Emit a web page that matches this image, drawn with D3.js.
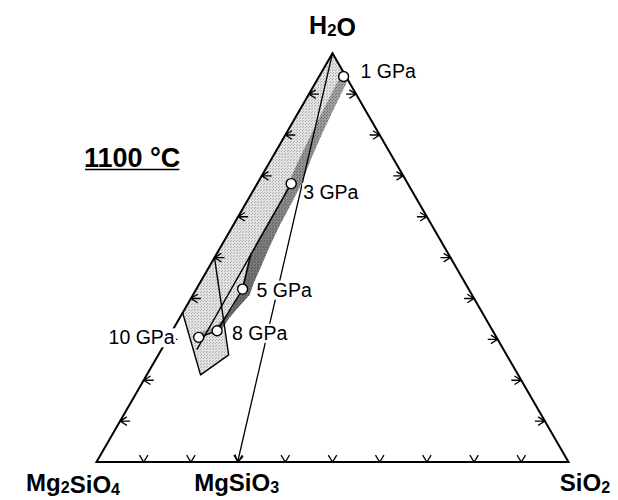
<!DOCTYPE html>
<html>
<head>
<meta charset="utf-8">
<script src="https://cdn.jsdelivr.net/npm/d3@7/dist/d3.min.js"></script>
<style>
    body { margin: 0; background: #fff; }
    svg { display: block; font-family: "Liberation Sans", Arial, Helvetica, sans-serif; }
</style>
</head>
<body>
<div id="chart"></div>
<script>
'use strict';

// Compositions are wt% [H2O, SiO2]; Mg2SiO4 is the remainder
const pressures = ['1 GPa', '3 GPa', '5 GPa', '8 GPa', '10 GPa'];
const pointH2O  = [94.3, 68.1, 42.3, 32.1, 30.5];
const pointSiO2 = [5.2, 7.2, 9.8, 9.5, 6.4];

// Dark band (fluid/melt trend), outer side top -> bottom, inner side bottom -> top
const bandOuter = [[93.9, 6.5], [87.5, 7.0], [80.6, 7.6], [74.0, 8.4], [67.9, 9.4], [62.5, 9.7],
    [57.4, 9.9], [52.0, 10.4], [47.5, 11.0], [43.9, 11.4], [40.9, 12.0], [38.5, 11.3], [35.3, 10.5], [31.9, 10.3]];
const bandInner = [[32.8, 8.8], [37.5, 9.9], [41.4, 9.8], [46.6, 8.3], [50.0, 7.3], [54.4, 7.0],
    [59.8, 7.0], [65.2, 7.0], [72.1, 6.1], [77.7, 5.6], [84.3, 5.1], [90.7, 4.7], [93.6, 4.5]];
const bandTail = [[32.1, 9.5], [33.3, 9.0], [31.6, 6.0], [30.5, 6.4]];

// Light field along the Mg2SiO4-H2O side
const fieldCorners = [[100, 0], [36.5, 0], [21.3, 11.4], [26.2, 14.9], [31.9, 11.3]];
const fieldOutline = [[50, 0], [26.2, 14.9], [21.3, 11.4], [36.5, 0]];
const tieLine  = [[68.1, 7.2], [27.5, 7.5]];
const stubLine = [[51.2, 7.2], [42.3, 9.8]];

const mgsio3 = [0, 29.9];
const tickValues = [10, 20, 30, 40, 50, 60, 70, 80, 90];

const width = 618, height = 500;
const side = 472, x0 = 96.5, y0 = 462;

const scaleS = d3.scaleLinear().domain([0, 100]).range([0, side]);
const scaleH = d3.scaleLinear().domain([0, 100]).range([y0, y0 - side * Math.sqrt(3) / 2]);
const proj = ([h, s]) => [x0 + scaleS(s) + scaleS(h) / 2, scaleH(h)];

const svg = d3.select('#chart').append('svg')
    .attr('width', width)
    .attr('height', height);

// Stipple patterns
const defs = svg.append('defs');
const stipple = (id, base, dot) => {
    let p = defs.append('pattern').attr('id', id)
        .attr('width', 3).attr('height', 3).attr('patternUnits', 'userSpaceOnUse');
    p.append('rect').attr('width', 3).attr('height', 3).attr('fill', base);
    p.append('rect').attr('width', 1).attr('height', 1).attr('fill', dot);
    p.append('rect').attr('x', 2).attr('y', 1).attr('width', 1).attr('height', 1).attr('fill', dot);
};
stipple('light', '#e2e2e2', '#aeaeae');
stipple('dots', 'none', 'rgba(0,0,0,0.28)');

const grad = defs.append('linearGradient').attr('id', 'bandShade')
    .attr('gradientUnits', 'userSpaceOnUse')
    .attr('x1', proj([94, 6])[0]).attr('y1', proj([94, 6])[1])
    .attr('x2', proj([40, 10])[0]).attr('y2', proj([40, 10])[1]);
grad.append('stop').attr('offset', 0).attr('stop-color', '#a4a4a4');
grad.append('stop').attr('offset', 0.55).attr('stop-color', '#8c8c8c');
grad.append('stop').attr('offset', 1).attr('stop-color', '#6c6c6c');

const line = d3.line().x(d => proj(d)[0]).y(d => proj(d)[1]);
const closed = d3.line().x(d => proj(d)[0]).y(d => proj(d)[1]).curve(d3.curveLinearClosed);

// Fields
svg.append('path')
    .attr('d', closed(fieldCorners.concat(bandOuter.slice().reverse())))
    .attr('fill', 'url(#light)');

const bandPath = closed(bandOuter.concat(bandInner));
svg.append('path').attr('d', bandPath).attr('fill', 'url(#bandShade)');
svg.append('path').attr('d', bandPath).attr('fill', 'url(#dots)');

svg.append('path')
    .attr('d', closed(bandTail))
    .attr('fill', '#a0a0a0');

// Outlines
const thin = (pts) => svg.append('path')
    .attr('d', line(pts))
    .attr('fill', 'none')
    .attr('stroke', '#000')
    .attr('stroke-width', 1.4)
    .attr('stroke-linejoin', 'round');

thin(fieldOutline);
thin(tieLine);
thin(stubLine);
thin(d3.range(2, 5).map(i => [pointH2O[i], pointSiO2[i]]));

// Triangle
svg.append('path')
    .attr('d', closed([[100, 0], [0, 0], [0, 100]]))
    .attr('fill', 'none')
    .attr('stroke', '#000')
    .attr('stroke-width', 2)
    .attr('stroke-linejoin', 'miter');

// Arrow-shaped ticks
const arm = 8, stem = 10;
const rad = a => a * Math.PI / 180;
const glyph = (p, dir, withStem) => {
    // dir is the pointing angle (screen degrees); tip sits on the edge
    let [x, y] = p;
    let back = rad(dir + 180);
    let a1 = back - rad(32), a2 = back + rad(32);
    let s = `M${x + arm * Math.cos(a1)},${y + arm * Math.sin(a1)}L${x},${y}L${x + arm * Math.cos(a2)},${y + arm * Math.sin(a2)}`;
    if (withStem) s += `M${x},${y}L${x + stem * Math.cos(back)},${y + stem * Math.sin(back)}`;
    return s;
};

const ticks = svg.append('g')
    .attr('fill', 'none')
    .attr('stroke', '#000')
    .attr('stroke-width', 1.3);

ticks.selectAll('path.tick-left')
    .data(tickValues)
    .join('path')
    .classed('tick-left', true)
    .attr('d', v => glyph(proj([v, 0]), 180, true));

ticks.selectAll('path.tick-right')
    .data(tickValues)
    .join('path')
    .classed('tick-right', true)
    .attr('d', v => glyph(proj([v, 100 - v]), 0, true));

ticks.selectAll('path.tick-bottom')
    .data(tickValues)
    .join('path')
    .classed('tick-bottom', true)
    .attr('d', v => glyph(proj([0, v]), 90, false));

// H2O -> MgSiO3 arrow
const apexPt = proj([100, 0]), endPt = proj(mgsio3);
const ang = Math.atan2(endPt[1] - apexPt[1], endPt[0] - apexPt[0]) * 180 / Math.PI;
svg.append('path')
    .attr('d', line([[100, 0], mgsio3]) + glyph(endPt, ang, false))
    .attr('fill', 'none')
    .attr('stroke', '#000')
    .attr('stroke-width', 1.3);

// Pressure labels with white backing
const labelOffsets = [[17, 1], [12, 15], [14, 7.5], [15, 9], [-24, 7]];
const labels = svg.append('g').attr('font-size', 19.5);
pressures.forEach((name, i) => {
    let p = proj([pointH2O[i], pointSiO2[i]]);
    let g = labels.append('g');
    let bg = g.append('rect').attr('fill', '#fff');
    let t = g.append('text')
        .attr('x', p[0] + labelOffsets[i][0])
        .attr('y', p[1] + labelOffsets[i][1])
        .attr('text-anchor', i === 4 ? 'end' : 'start')
        .text(name);
    let b = t.node().getBBox();
    bg.attr('x', b.x - 1).attr('y', b.y + 2).attr('width', b.width + 2).attr('height', b.height - 3);
});

// Pressure points
svg.selectAll('circle.pt')
    .data(pressures)
    .join('circle')
    .classed('pt', true)
    .attr('cx', (d, i) => proj([pointH2O[i], pointSiO2[i]])[0])
    .attr('cy', (d, i) => proj([pointH2O[i], pointSiO2[i]])[1])
    .attr('r', 5)
    .attr('fill', '#fff')
    .attr('stroke', '#000')
    .attr('stroke-width', 1.4);

// Vertex labels
const chem = (x, y, parts, anchor, size) => {
    let t = svg.append('text')
        .attr('x', x).attr('y', y)
        .attr('text-anchor', anchor)
        .attr('font-weight', 'bold')
        .attr('font-size', size);
    parts.forEach(([s, sub]) => {
        t.append('tspan')
            .attr('font-size', sub ? size * 0.67 : size)
            .attr('dy', sub ? 2 : 0)
            .text(s);
        if (sub) t.append('tspan').attr('dy', -2).text('');
    });
    return t;
};
chem(apexPt[0], 34, [['H'], ['2', true], ['O']], 'middle', 25);
chem(120, 491, [['Mg'], ['2', true], ['SiO'], ['4', true]], 'end', 24);
chem(endPt[0] - 1, 491, [['MgSiO'], ['3', true]], 'middle', 24);
chem(585, 491, [['SiO'], ['2', true]], 'middle', 24);

// Temperature title
const title = svg.append('text')
    .attr('x', 84).attr('y', 166.5)
    .attr('font-weight', 'bold')
    .attr('font-size', 27)
    .text('1100 °C');
const tb = title.node().getBBox();
svg.append('line')
    .attr('x1', tb.x + 1).attr('x2', tb.x + tb.width - 1)
    .attr('y1', 169.5).attr('y2', 169.5)
    .attr('stroke', '#000')
    .attr('stroke-width', 1.6);
</script>
</body>
</html>
